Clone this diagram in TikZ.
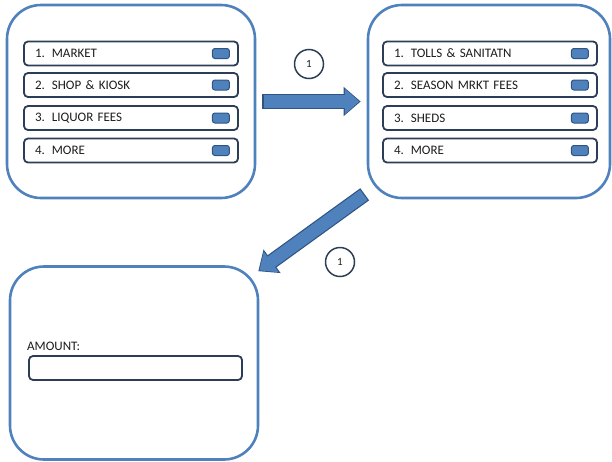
\documentclass[tikz,border=0pt]{standalone}
\usepackage{fontspec}
\setmainfont{Carlito}
\usepackage{tikz}
\usetikzlibrary{arrows.meta}

\definecolor{screenblue}{HTML}{4F81BD}
\definecolor{rowedge}{HTML}{2C3E56}
\definecolor{btnedge}{HTML}{2F5482}
\definecolor{textgray}{HTML}{1C1C1C}

\tikzset{
  screen/.style={draw=screenblue, line width=2.6pt, rounded corners=34pt, minimum width=248pt, minimum height=193pt},
  row/.style={draw=rowedge, line width=1.8pt, rounded corners=4pt, minimum height=24pt, text width=192pt, inner xsep=11pt, align=left, text=textgray, font=\fontsize{13}{15}\selectfont},
  btn/.style={draw=btnedge, fill=screenblue, line width=1pt, rounded corners=2.5pt, minimum width=17pt, minimum height=10pt, inner sep=0pt},
  num/.style={circle, draw=rowedge, line width=1.5pt, minimum size=29pt, inner sep=0pt, text=textgray, font=\fontsize{11}{12}\selectfont},
  blockedge/.style={draw=btnedge, line width=15pt, -{Triangle[width=28pt,length=17pt]}},
  blockfill/.style={draw=screenblue, line width=12.6pt, -{Triangle[width=24.5pt,length=14.5pt]}},
}

\begin{document}
\begin{tikzpicture}[x=1pt, y=-1pt]
\useasboundingbox (0,0) rectangle (612,461);

% screens
\node[screen] (scrA) at (131,101.5) {};
\node[screen, minimum width=242pt] (scrB) at (489,101.5) {};
\node[screen] (scrC) at (134,363) {};

% first menu
\node[row] (mk1) at (131,53.5) {1.\hspace{7pt}MARKET};
\node[row] (mk2) at (131,85) {2.\hspace{7pt}SHOP \& KIOSK};
\node[row] (mk3) at (131,118) {3.\hspace{7pt}LIQUOR FEES};
\node[row] (mk4) at (131,150.5) {4.\hspace{7pt}MORE};
\node[btn] (mk1b) at ([xshift=-18pt]mk1.east) {};
\node[btn] (mk2b) at ([xshift=-18pt]mk2.east) {};
\node[btn] (mk3b) at ([xshift=-18pt]mk3.east) {};
\node[btn] (mk4b) at ([xshift=-18pt]mk4.east) {};

% second menu
\node[row] (fe1) at (490,53.5) {1.\hspace{7pt}TOLLS \& SANITATN};
\node[row] (fe2) at (490,85) {2.\hspace{7pt}SEASON MRKT FEES};
\node[row] (fe3) at (490,118) {3.\hspace{7pt}SHEDS};
\node[row] (fe4) at (490,150.5) {4.\hspace{7pt}MORE};
\node[btn] (fe1b) at ([xshift=-18pt]fe1.east) {};
\node[btn] (fe2b) at ([xshift=-18pt]fe2.east) {};
\node[btn] (fe3b) at ([xshift=-18pt]fe3.east) {};
\node[btn] (fe4b) at ([xshift=-18pt]fe4.east) {};

% amount screen
\node[anchor=west, inner sep=0pt, text=textgray, font=\fontsize{13}{15}\selectfont] (amtlbl) at (27,346) {AMOUNT:};
\node[row, text width=191pt] (amtbox) at (135.5,368) {};

% arrows
\draw[blockedge, shorten <=6pt, shorten >=6pt] (scrA) -- (scrB);
\draw[blockfill, shorten <=7.2pt, shorten >=7.4pt] (scrA) -- (scrB);
\coordinate (dgA) at ([xshift=-2pt, yshift=5pt]scrB.south west);
\coordinate (dgB) at ([xshift=-1pt, yshift=-6pt]scrC.north east);
\draw[blockedge] (dgA) -- (dgB);
\draw[blockfill, shorten <=1.2pt, shorten >=1.4pt] (dgA) -- (dgB);

\node[num] (st1) at (309,64) {1};
\node[num] (st2) at (340,262) {1};
\end{tikzpicture}
\end{document}
